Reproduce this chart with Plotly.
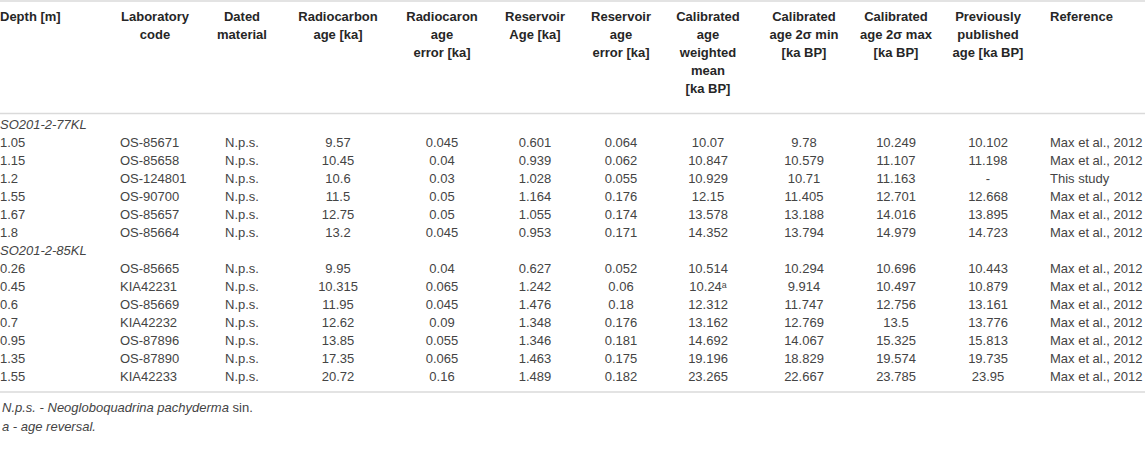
import plotly.graph_objects as go

# Kopfzeilen (eine Liste pro Spalte, jede Zeile separat)
headers = [["Depth [m]"], ["Laboratory", "code"], ["Dated", "material"], ["Radiocarbon", "age [ka]"],
           ["Radiocaron", "age", "error [ka]"], ["Reservoir", "Age [ka]"], ["Reservoir", "age", "error [ka]"],
           ["Calibrated", "age", "weighted", "mean", "[ka BP]"], ["Calibrated", "age 2σ min", "[ka BP]"],
           ["Calibrated", "age 2σ max", "[ka BP]"], ["Previously", "published", "age [ka BP]"], ["Reference"]]

cores = ["SO201-2-77KL", "SO201-2-85KL"]
core_of_row = [0, 0, 0, 0, 0, 0, 1, 1, 1, 1, 1, 1, 1]

depth = ["1.05", "1.15", "1.2", "1.55", "1.67", "1.8",
         "0.26", "0.45", "0.6", "0.7", "0.95", "1.35", "1.55"]
lab_code = ["OS-85671", "OS-85658", "OS-124801", "OS-90700", "OS-85657", "OS-85664",
            "OS-85665", "KIA42231", "OS-85669", "KIA42232", "OS-87896", "OS-87890", "KIA42233"]
material = ["N.p.s."] * 13
c14_age = ["9.57", "10.45", "10.6", "11.5", "12.75", "13.2",
           "9.95", "10.315", "11.95", "12.62", "13.85", "17.35", "20.72"]
c14_err = ["0.045", "0.04", "0.03", "0.05", "0.05", "0.045",
           "0.04", "0.065", "0.045", "0.09", "0.055", "0.065", "0.16"]
res_age = ["0.601", "0.939", "1.028", "1.164", "1.055", "0.953",
           "0.627", "1.242", "1.476", "1.348", "1.346", "1.463", "1.489"]
res_err = ["0.064", "0.062", "0.055", "0.176", "0.174", "0.171",
           "0.052", "0.06", "0.18", "0.176", "0.181", "0.175", "0.182"]
cal_mean = ["10.07", "10.847", "10.929", "12.15", "13.578", "14.352",
            "10.514", "10.24ᵃ", "12.312", "13.162", "14.692", "19.196", "23.265"]
cal_min = ["9.78", "10.579", "10.71", "11.405", "13.188", "13.794",
           "10.294", "9.914", "11.747", "12.769", "14.067", "18.829", "22.667"]
cal_max = ["10.249", "11.107", "11.163", "12.701", "14.016", "14.979",
           "10.696", "10.497", "12.756", "13.5", "15.325", "19.574", "23.785"]
prev_age = ["10.102", "11.198", "-", "12.668", "13.895", "14.723",
            "10.443", "10.879", "13.161", "13.776", "15.813", "19.735", "23.95"]
reference = ["Max et al., 2012", "Max et al., 2012", "This study", "Max et al., 2012",
             "Max et al., 2012", "Max et al., 2012", "Max et al., 2012", "Max et al., 2012",
             "Max et al., 2012", "Max et al., 2012", "Max et al., 2012", "Max et al., 2012",
             "Max et al., 2012"]

footnotes = ["<i>N.p.s. - Neogloboquadrina pachyderma</i> sin.", "<i>a - age reversal.</i>"]

NB = "\u00a0"  # geschuetztes Leerzeichen, damit Plotly nicht umbricht
CLEAR = "rgba(0,0,0,0)"

# Kopf: 6 Zeilen pro Spalte (letzte leer als Abstand)
header_vals = [[ln.replace(" ", NB) for ln in h] + [""] * (6 - len(h)) for h in headers]

# Koerper: Zwischenzeile pro Kern; Kernnamen kommen in eine eigene (kursive) Tabelle
data_cols = [depth, lab_code, material, c14_age, c14_err, res_age, res_err,
             cal_mean, cal_min, cal_max, prev_age, reference]
columns = [[] for _ in data_cols]
core_col = []
last_core = None
for i in range(len(depth)):
    if core_of_row[i] != last_core:
        last_core = core_of_row[i]
        for col in columns:
            col.append("")
        core_col.append(cores[last_core])
    for j, col in enumerate(columns):
        col.append(data_cols[j][i].replace(" ", NB))
    core_col.append("")

# Die Zellen haben 8px Innenabstand; die Seite wird daher um 8px nach links geschoben
SHIFT = 8
W = 1145 + SHIFT
H = 465
def py(px):
    return 1 - px / H
def px_x(px):
    return (px + SHIFT) / W

widths = [120, 86, 88, 104, 104, 82, 90, 84, 108, 76, 108, 103]
FONT = "Liberation Sans, Arial"
dom_y = [py(400), py(3.5)]

table = go.Table(
    columnwidth=widths,
    domain=dict(x=[0, 1], y=dom_y),
    header=dict(
        values=header_vals,
        align=["left"] + ["center"] * 10 + ["left"],
        height=18,
        fill_color=CLEAR,
        line=dict(color=CLEAR, width=0),
        font=dict(family=FONT, size=13, color="#262626", weight="bold"),
    ),
    cells=dict(
        values=columns,
        align=["left", "left", "center"] + ["center"] * 8 + ["left"],
        height=18,
        fill_color=CLEAR,
        line=dict(color=CLEAR, width=0),
        font=dict(family=FONT, size=13, color="#444"),
    ),
)

core_table = go.Table(
    columnwidth=[1],
    domain=dict(x=[0, px_x(150)], y=dom_y),
    header=dict(values=[[""] * 6], height=18, fill_color=CLEAR,
                line=dict(color=CLEAR, width=0)),
    cells=dict(
        values=[core_col],
        align="left",
        height=18,
        fill_color=CLEAR,
        line=dict(color=CLEAR, width=0),
        font=dict(family=FONT, size=13, color="#444", style="italic"),
    ),
)

fig = go.Figure(data=[table, core_table])

for ypx in [1, 113.5, 392]:
    fig.add_shape(type="line", xref="paper", yref="paper", x0=px_x(0), x1=1, y0=py(ypx), y1=py(ypx),
                  line=dict(color="#dadada", width=1.5))

for k, ypx in enumerate([407, 426]):
    fig.add_annotation(text=footnotes[k], xref="paper", yref="paper", x=px_x(0), y=py(ypx),
                       xanchor="left", yanchor="middle", showarrow=False,
                       font=dict(family=FONT, size=13, color="#444"))

fig.update_layout(width=W, height=H, margin=dict(l=0, r=0, t=0, b=0),
                  paper_bgcolor="white", plot_bgcolor="white")

fig.write_html("out.html", config={"displayModeBar": False},
               post_script="document.body.style.margin = '0 0 0 -%dpx';"
                           "document.body.style.overflow = 'hidden';" % SHIFT)
